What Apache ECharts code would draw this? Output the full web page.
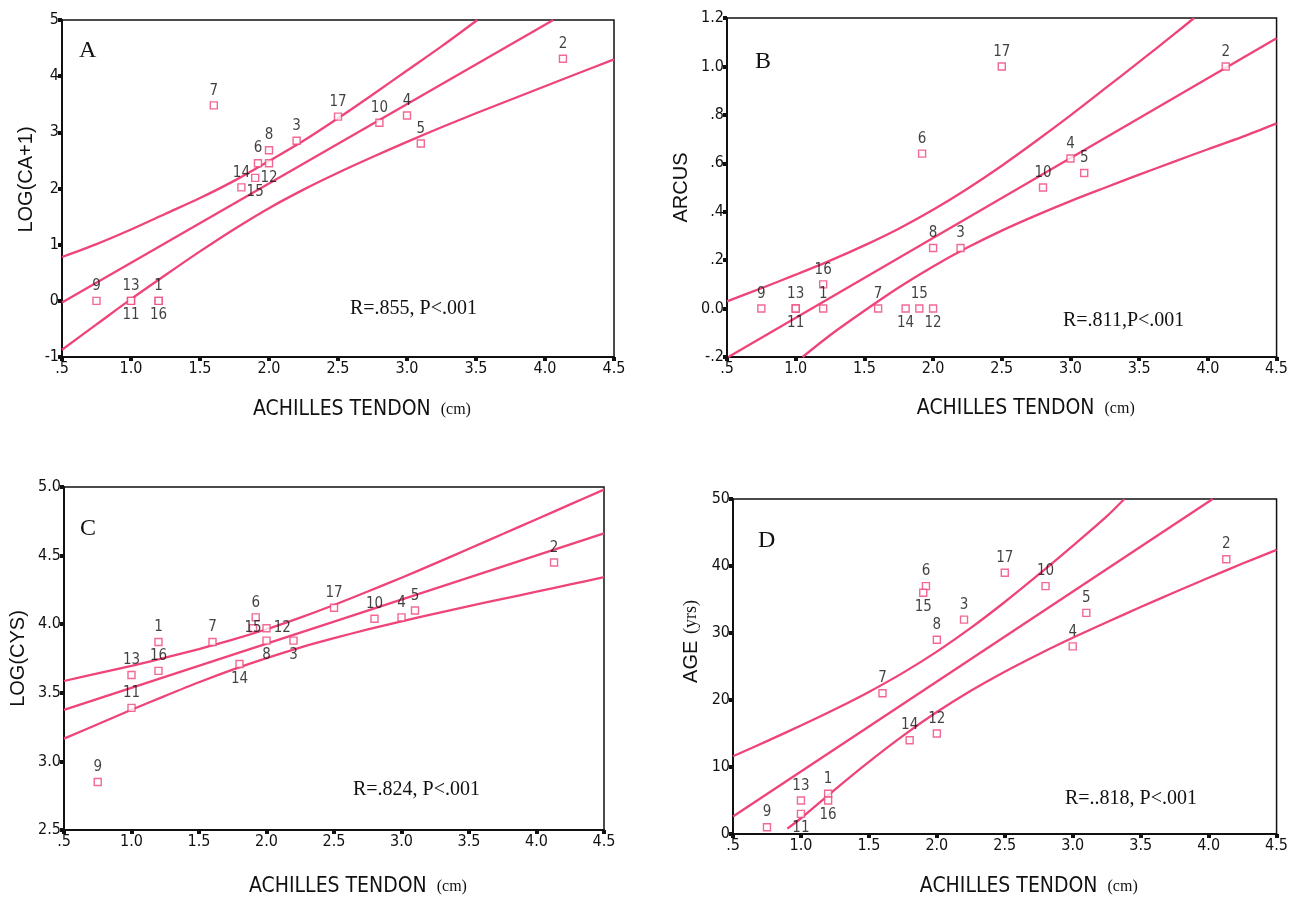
<!DOCTYPE html>
<html>
<head>
<meta charset="utf-8">
<script src="https://cdn.jsdelivr.net/npm/echarts@6/dist/echarts.min.js"></script>
<style>html,body{margin:0;padding:0;background:#fff;}#c{width:1291px;height:898px;}</style>
</head>
<body>
<div id="c"></div>
<script>
// ---------- data ----------
const patientIds = [1,2,3,4,5,6,7,8,9,10,11,12,13,14,15,16,17];
const tendonCm   = [1.2,4.13,2.2,3.0,3.1,1.92,1.6,2.0,0.75,2.8,1.0,2.0,1.0,1.8,1.9,1.2,2.5];
const logCa      = [0,4.31,2.85,3.30,2.80,2.45,3.48,2.68,0,3.17,0,2.45,0,2.02,2.19,0,3.28];
const arcus      = [0,1.0,0.25,0.62,0.56,0.64,0,0.25,0,0.50,0,0,0,0,0,0.10,1.0];
const logCys     = [3.87,4.45,3.88,4.05,4.10,4.05,3.87,3.88,2.85,4.04,3.39,3.97,3.63,3.71,3.97,3.66,4.12];
const ageYrs     = [6,41,32,28,33,37,21,29,1,37,3,15,5,14,36,5,39];

const fitA   = [[0.5,-0.03],[4.06,5.0]];
const upperA = [[0.5,0.78],[0.75,1.01],[1.0,1.27],[1.25,1.55],[1.5,1.83],[1.75,2.14],[2.0,2.49],[2.25,2.85],[2.5,3.25],[2.75,3.67],[3.0,4.10],[3.25,4.53],[3.51,5.0]];
const lowerA = [[0.5,-0.87],[0.75,-0.42],[1.0,0.03],[1.25,0.46],[1.5,0.88],[1.75,1.28],[2.0,1.65],[2.25,1.98],[2.5,2.28],[2.75,2.56],[3.0,2.83],[3.25,3.09],[3.5,3.34],[3.75,3.58],[4.0,3.82],[4.25,4.06],[4.5,4.30]];

const fitB   = [[0.51,-0.2],[4.5,1.116]];
const upperB = [[0.5,0.03],[0.75,0.084],[1.0,0.140],[1.25,0.198],[1.5,0.261],[1.75,0.330],[2.0,0.408],[2.25,0.495],[2.5,0.590],[2.75,0.692],[3.0,0.798],[3.25,0.908],[3.5,1.019],[3.75,1.131],[3.9,1.2]];
const lowerB = [[1.05,-0.2],[1.25,-0.11],[1.5,-0.009],[1.75,0.087],[2.0,0.174],[2.25,0.252],[2.5,0.322],[2.75,0.385],[3.0,0.444],[3.25,0.499],[3.5,0.553],[3.75,0.606],[4.0,0.658],[4.25,0.709],[4.5,0.765]];

const fitC   = [[0.5,3.376],[4.5,4.662]];
const upperC = [[0.5,3.586],[0.75,3.641],[1.0,3.697],[1.25,3.756],[1.5,3.819],[1.75,3.887],[2.0,3.963],[2.25,4.048],[2.5,4.140],[2.75,4.238],[3.0,4.339],[3.25,4.443],[3.5,4.550],[3.75,4.657],[4.0,4.765],[4.25,4.873],[4.5,4.981]];
const lowerC = [[0.5,3.166],[0.75,3.271],[1.0,3.376],[1.25,3.478],[1.5,3.577],[1.75,3.669],[2.0,3.753],[2.25,3.830],[2.5,3.898],[2.75,3.962],[3.0,4.021],[3.25,4.077],[3.5,4.132],[3.75,4.185],[4.0,4.237],[4.25,4.290],[4.5,4.343]];

const fitD   = [[0.5,2.6],[4.03,50]];
const upperD = [[0.5,11.6],[0.75,13.86],[1.0,16.19],[1.25,18.62],[1.5,21.21],[1.75,24.05],[2.0,27.22],[2.25,30.76],[2.5,34.63],[2.75,38.74],[3.0,43.01],[3.25,47.41],[3.38,50]];
const lowerD = [[0.9,0.8],[1.0,2.35],[1.25,6.64],[1.5,10.77],[1.75,14.65],[2.0,18.2],[2.25,21.38],[2.5,24.23],[2.75,26.84],[3.0,29.29],[3.25,31.61],[3.5,33.87],[3.75,36.08],[4.0,38.24],[4.25,40.37],[4.5,42.4]];

const xTickLabels  = ['.5','1.0','1.5','2.0','2.5','3.0','3.5','4.0','4.5'];
const yTickLabelsA = ['-1','0','1','2','3','4','5'];
const yTickLabelsB = ['-.2','0.0','.2','.4','.6','.8','1.0','1.2'];
const yTickLabelsC = ['2.5','3.0','3.5','4.0','4.5','5.0'];
const yTickLabelsD = ['0','10','20','30','40','50'];

const panelLetters = ['A','B','C','D'];
const statTexts = ['R=.855, P<.001','R=.811,P<.001','R=.824, P<.001','R=..818, P<.001'];
const yTitles = ['LOG(CA+1)','ARCUS','LOG(CYS)','AGE'];

// ---------- style / layout ----------
const labelPosA = ['top','top','top','top','top','top','top','top','top','top','bottom','bottom','top','top','bottom','bottom','top'];
const labelPosB = ['top','top','top','top','top','top','top','top','top','top','bottom','bottom','top','bottom','top','top','top'];
const labelPosC = ['top','top','bottom','top','top','top','top','bottom','top','top','top','right','top','bottom','inside','top','top'];
const labelPosD = ['top','top','top','top','top','top','top','top','top','top','bottom','top','top','top','bottom','bottom','top'];

const PINK = '#ef4478';
const FONT_N = "'Liberation Sans Narrow','Arial Narrow','DejaVu Sans Condensed',sans-serif";
const FONT_S = "'Liberation Sans',Arial,sans-serif";
const FONT_T = "'Liberation Serif','Times New Roman',serif";

const grids = [
  {left:62, top:20, width:552, height:337},
  {left:727, top:18, width:552, height:339},
  {left:64, top:487, width:540, height:348},
  {left:733, top:499, width:550, height:338}
];
const yCfg = [
  {min:-1, max:5, interval:1, labels:yTickLabelsA, nameGap:26, pad:18},
  {min:-0.2, max:1.2, interval:0.2, labels:yTickLabelsB, nameGap:36, pad:0},
  {min:2.5, max:5.0, interval:0.5, labels:yTickLabelsC, nameGap:36, pad:0},
  {min:0, max:50, interval:10, labels:yTickLabelsD, nameGap:32, pad:50}
];
const xNameGaps = [42,41,46,42];
const letterPos = [[87,52],[763,63],[88,530],[766,542]];
const statPos = [[350,310],[1063,322],[353,791],[1065,800]];

function fmt(labels, min, step){
  return function(v){ const k = Math.round((v - min) / step); return labels[k] !== undefined ? labels[k] : ''; };
}

const axisLineStyle = {show:true, onZero:false, lineStyle:{color:'#111', width:2}};
const axisTickStyle = {show:true, length:4, lineStyle:{color:'#111', width:4}};

const xAxes = grids.map((g,i)=>({
  type:'value', gridIndex:i, min:0.5, max:4.5, interval:0.5,
  axisLine:axisLineStyle, axisTick:axisTickStyle, splitLine:{show:false},
  axisLabel:{formatter:fmt(xTickLabels,0.5,0.5), margin:4, fontSize:16, color:'#111', fontFamily:FONT_N},
  name:'{a|ACHILLES TENDON}   {b|(cm)}', nameLocation:'middle', nameGap:xNameGaps[i],
  nameTextStyle:{padding:[0,0,0,48], rich:{
    a:{fontFamily:FONT_N, fontSize:21, color:'#111'},
    b:{fontFamily:FONT_T, fontSize:16, color:'#111'}
  }}
}));

const yAxes = yCfg.map((c,i)=>({
  type:'value', gridIndex:i, min:c.min, max:c.max, interval:c.interval,
  axisLine:axisLineStyle, axisTick:axisTickStyle, splitLine:{show:false},
  axisLabel:{formatter:fmt(c.labels,c.min,c.interval), margin:3, fontSize:16, color:'#111', fontFamily:FONT_N},
  name: i===3 ? '{a|AGE}  {b|(yrs)}' : '{a|'+yTitles[i]+'}', nameLocation:'middle', nameGap:c.nameGap,
  nameTextStyle:{padding:[0,0,0,c.pad], rich:{
    a:{fontFamily:FONT_S, fontSize:20, color:'#111'},
    b:{fontFamily:FONT_T, fontSize:18, color:'#111'}
  }}
}));

const yData = [logCa, arcus, logCys, ageYrs];
const labelPos = [labelPosA, labelPosB, labelPosC, labelPosD];
const fits = [fitA, fitB, fitC, fitD];
const uppers = [upperA, upperB, upperC, upperD];
const lowers = [lowerA, lowerB, lowerC, lowerD];

const series = [];
for (let i=0;i<4;i++){
  const lineBase = {type:'line', xAxisIndex:i, yAxisIndex:i, symbol:'none', silent:true, z:2,
                    lineStyle:{color:PINK, width:2.3}, animation:false};
  series.push(Object.assign({}, lineBase, {data:fits[i], smooth:false}));
  series.push(Object.assign({}, lineBase, {data:uppers[i], smooth:0.3}));
  series.push(Object.assign({}, lineBase, {data:lowers[i], smooth:0.3}));
  series.push({
    type:'scatter', xAxisIndex:i, yAxisIndex:i, z:5, symbol:'rect', symbolSize:7,
    itemStyle:{color:'#fff', borderColor:PINK, borderWidth:1.4},
    label:{show:true, formatter:'{b}', color:'#111', fontSize:15, fontFamily:FONT_N, distance:3},
    data: tendonCm.map((x,k)=>({value:[x, yData[i][k]], name:String(patientIds[k]), label:{position:labelPos[i][k]}}))
  });
}

const graphic = [];
for (let i=0;i<4;i++){
  graphic.push({type:'text', left:letterPos[i][0]-8, top:letterPos[i][1]-13, z:10,
    style:{text:panelLetters[i], font:'24px '+FONT_T, fill:'#111'}});
  graphic.push({type:'text', left:statPos[i][0], top:statPos[i][1]-11, z:10,
    style:{text:statTexts[i], font:'20px '+FONT_T, fill:'#111'}});
}

const chart = echarts.init(document.getElementById('c'));
chart.setOption({
  animation:false,
  backgroundColor:'#fff',
  grid: grids.map(g=>Object.assign({show:true, borderColor:'#111', borderWidth:1.5, backgroundColor:'transparent'}, g)),
  xAxis:xAxes, yAxis:yAxes, series:series, graphic:graphic
});
</script>
</body>
</html>
